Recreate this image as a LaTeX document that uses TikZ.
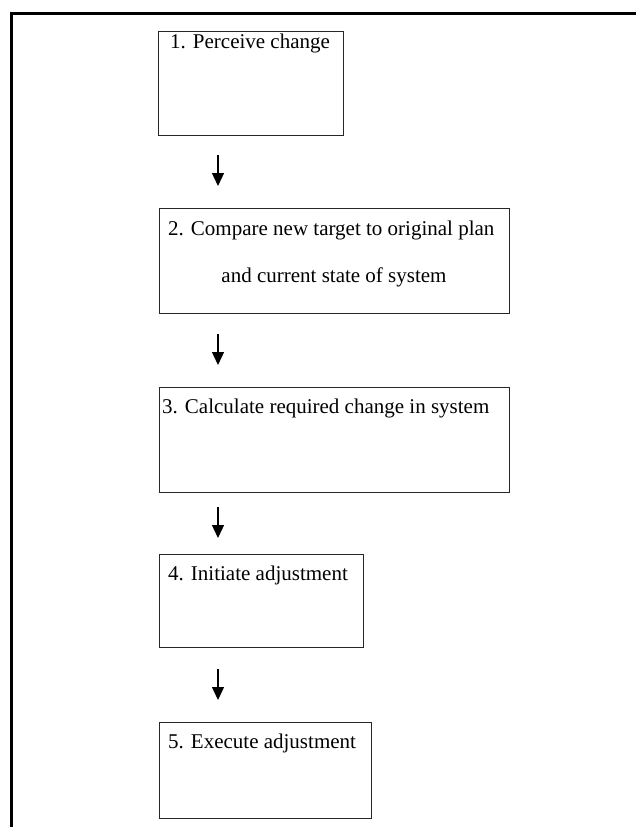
\documentclass[tikz,border=0pt]{standalone}
\usepackage{fontspec}
\setmainfont{Liberation Serif}
\usetikzlibrary{arrows.meta}
\begin{document}
\begin{tikzpicture}[x=1pt,y=-1pt,
  stepbox/.style={draw=black!85,line width=1.3pt,rectangle,anchor=north west,inner sep=0pt},
  lbl/.style={inner sep=0pt,font=\fontsize{21}{25}\selectfont},
  flow/.style={line width=1.3pt,-{Triangle[length=13pt,width=12pt]}}]
\useasboundingbox (0,0) rectangle (636,827);
% outer frame
\coordinate (fl) at (11,827);
\coordinate (fc) at (11,13);
\coordinate (fr) at (636,13);
\draw[line width=3pt] (fl) -- (fc) -- (fr);
% boxes
\node[stepbox,minimum width=185pt,minimum height=104pt] (b1) at (158,31) {};
\node[stepbox,minimum width=350pt,minimum height=105pt] (b2) at (159,208) {};
\node[stepbox,minimum width=350pt,minimum height=105pt] (b3) at (159,387) {};
\node[stepbox,minimum width=204pt,minimum height=93pt] (b4) at (159,554) {};
\node[stepbox,minimum width=212pt,minimum height=96pt] (b5) at (159,722) {};
% texts
\node[lbl,anchor=base west] (t1) at (170,48) {1. Perceive change};
\node[lbl,anchor=base west] (t2a) at (168,235) {2. Compare new target to original plan};
\node[lbl,anchor=base] (t2b) at (334,282) {and current state of system};
\node[lbl,anchor=base west] (t3) at (162,413) {3. Calculate required change in system};
\node[lbl,anchor=base west] (t4) at (168,580) {4. Initiate adjustment};
\node[lbl,anchor=base west] (t5) at (168,748) {5. Execute adjustment};
% arrows
\coordinate (a1s) at (218,155); \coordinate (a1e) at (218,186);
\coordinate (a2s) at (218,334); \coordinate (a2e) at (218,365);
\coordinate (a3s) at (218,507); \coordinate (a3e) at (218,538);
\coordinate (a4s) at (218,669); \coordinate (a4e) at (218,700);
\draw[flow] (a1s) -- (a1e);
\draw[flow] (a2s) -- (a2e);
\draw[flow] (a3s) -- (a3e);
\draw[flow] (a4s) -- (a4e);
\end{tikzpicture}
\end{document}
